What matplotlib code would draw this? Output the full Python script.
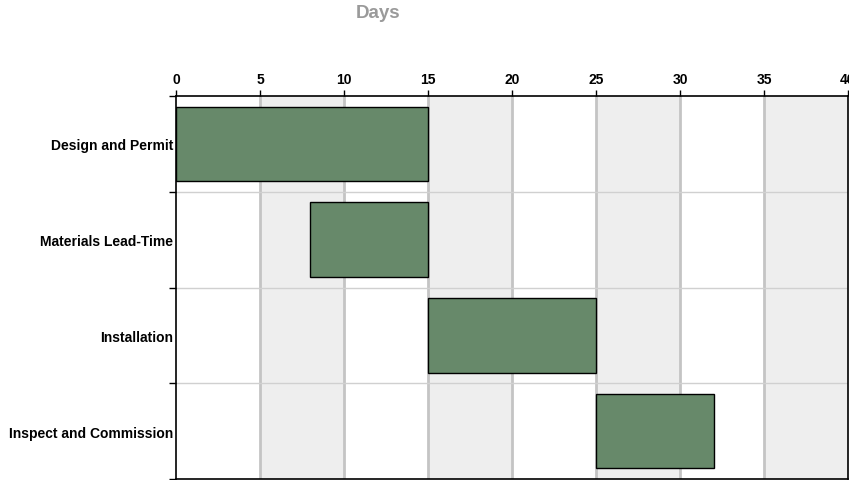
import matplotlib.pyplot as plt
from matplotlib.patches import Rectangle

plt.rcParams['font.family'] = ['Liberation Sans', 'DejaVu Sans']

tasks = ["Design and Permit", "Materials Lead-Time", "Installation", "Inspect and Commission"]
start_days = [0, 8, 15, 25]
end_days = [15, 15, 25, 32]
day_ticks = [0, 5, 10, 15, 20, 25, 30, 35, 40]

W, H = 849, 481
fig = plt.figure(figsize=(W / 100, H / 100), dpi=100)
ax = fig.add_axes([176 / W, 1 - 480 / H, (848 - 176) / W, (480 - 97) / H])

ax.set_xlim(0, 40)
ax.set_ylim(len(tasks), 0)

# alternating shaded columns every 5 days
for i, d in enumerate(day_ticks[:-1]):
    if i % 2 == 1:
        ax.axvspan(d, d + 5, color='#eeeeee', zorder=0, lw=0)
for d in day_ticks[1:-1]:
    ax.axvline(d, color='#c4c4c4', lw=2, zorder=1)
for r in range(1, len(tasks)):
    ax.axhline(r, color='#d0d0d0', lw=1, zorder=1)

# task bars
bar_h = 0.78
for i, (s, e) in enumerate(zip(start_days, end_days)):
    ax.add_patch(Rectangle((s, i + 0.5 - bar_h / 2), e - s, bar_h,
                           facecolor='#67896a', edgecolor='black', lw=1, zorder=3))

ax.xaxis.tick_top()
ax.set_xticks(day_ticks)
ax.set_xticklabels([str(d) for d in day_ticks], fontsize=10, fontweight='bold')
ax.tick_params(axis='x', length=4, width=1, pad=3, colors='black')

ax.set_yticks(range(len(tasks) + 1))
ax.set_yticklabels([])
ax.set_yticks([i + 0.5 for i in range(len(tasks))], minor=True)
ax.set_yticklabels(tasks, minor=True, fontsize=10, fontweight='bold')
ax.tick_params(axis='y', which='major', length=5, width=1)
ax.tick_params(axis='y', which='minor', length=0, pad=2)

for sp in ax.spines.values():
    sp.set_color('black')
    sp.set_linewidth(1.2)

fig.text(378 / W, 1 - 13 / H, "Days", ha='center', va='center',
         fontsize=13.5, fontweight='bold', color='#9a9a9a')

fig.savefig("out.png", dpi=100)
